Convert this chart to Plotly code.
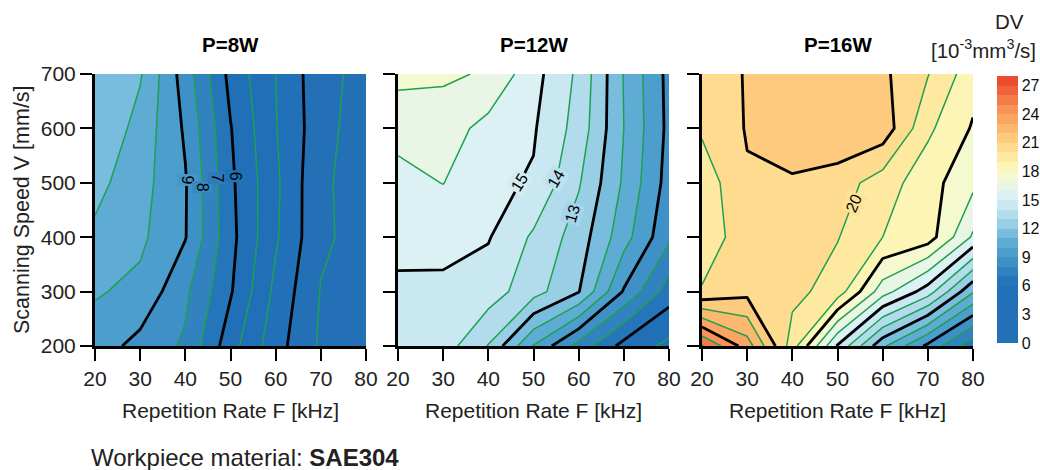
import plotly.graph_objects as go

# Grid of the process window
freq_khz = [20, 30, 40, 50, 60, 70, 80]
speed_mm_s = [200, 300, 400, 500, 600, 700]

# Removal rate DV [1e-3 mm^3/s]; one row per scanning speed (200 -> 700 mm/s),
# one column per repetition rate (20 -> 80 kHz)
dv_p8 = [
    [9.5, 8.67, 7.85, 5.4, 3.4, 1.85, 1.3],
    [10.1, 9.75, 8.2, 6.1, 3.75, 1.95, 1.4],
    [10.8, 10.2, 9.05, 6.3, 4.13, 2.18, 1.6],
    [11.3, 10.39, 9.08, 6.2, 4.2, 2.15, 1.6],
    [11.9, 10.64, 8.86, 6.05, 4.05, 2.4, 1.4],
    [11.6, 11.1, 8.5, 5.7, 4.0, 2.35, 1.65],
]
dv_p12 = [
    [14.6, 14.5, 12.95, 9.95, 7.6, 5.65, 4.75],
    [14.75, 14.8, 14.49, 13.4, 12.05, 8.9, 6.5],
    [15.4, 15.3, 15.07, 13.84, 12.53, 10.4, 8.2],
    [15.7, 16.02, 15.23, 14.9, 13.1, 10.85, 8.6],
    [16.3, 16.5, 15.65, 15.1, 13.6, 11.0, 8.75],
    [17.3, 17.15, 16.9, 15.35, 13.8, 10.95, 8.7],
]
dv_p16 = [
    [26.1, 23.5, 19.5, 14.9, 11.2, 8.75, 6.3],
    [20.1, 20.7, 20.3, 19.55, 16.45, 14.5, 11.1],
    [19.3, 20.65, 20.6, 20.05, 19.0, 18.5, 15.85],
    [19.4, 20.9, 20.8, 20.5, 19.5, 18.4, 17.25],
    [20.15, 21.07, 22.0, 21.9, 21.62, 19.2, 17.9],
    [20.6, 21.05, 21.7, 21.6, 21.2, 20.05, 18.4],
]

panel_titles = ["P=8W", "P=12W", "P=16W"]
freq_ticks = [20, 30, 40, 50, 60, 70, 80]
speed_ticks = [200, 300, 400, 500, 600, 700]
dv_ticks = [0, 3, 6, 9, 12, 15, 18, 21, 24, 27]

# labelled contour levels per panel
labelled_levels = [[9, 8, 7, 6], [15, 14, 13], [20]]

# one colour per 1-unit DV band, 0 -> 28
band_colors = [
    "#2470b6", "#2470b6", "#2370b7", "#2270b7", "#216fb7", "#206fb7",
    "#2575ba", "#3282c0", "#3f90c7", "#4c9ecd", "#5eacd4", "#78bddd",
    "#98cfe5", "#b2dcec", "#c9e8f1", "#dcf1f3", "#e9f6e5", "#f5f9cf",
    "#fdf5b6", "#fee9a0", "#fedb8f", "#fdca7e", "#fcb86f", "#faa562",
    "#f89256", "#f57c49", "#f1643b", "#ec4c2f",
]
DV_MAX = 28

FONT = "Arial, Liberation Sans, sans-serif"
GREEN = "#1fa04f"
W, H = 1040, 470

scale = []
for k, c in enumerate(band_colors):
    scale.append([k / DV_MAX, c])
    scale.append([(k + 1) / DV_MAX, c])


def mix(c1, c2):
    a = [int(c1[j:j + 2], 16) for j in (1, 3, 5)]
    b = [int(c2[j:j + 2], 16) for j in (1, 3, 5)]
    return "#" + "".join("%02x" % ((p + q) // 2) for p, q in zip(a, b))


x_px = [(95, 366), (398, 669), (702, 973)]
y_px = (74, 346)

# where each labelled contour gets its value written: (F, V, text angle)
label_spots = [
    [(40.5, 505, 90), (43.8, 492, 90), (47.2, 508, 90), (51.0, 513, 90)],
    [(46.9, 500, -58), (55.0, 508, -60), (58.6, 444, -74)],
    [(53.6, 462, -66)],
]

fig = go.Figure()
annotations = []

for i, dv in enumerate([dv_p8, dv_p12, dv_p16]):
    suffix = "" if i == 0 else str(i + 1)
    xa, ya = "x" + suffix, "y" + suffix
    fig.add_trace(go.Contour(
        x=freq_khz, y=speed_mm_s, z=dv, xaxis=xa, yaxis=ya,
        zmin=0, zmax=DV_MAX, autocontour=False, colorscale=scale,
        contours=dict(start=0, end=DV_MAX, size=1, coloring="fill", showlines=False),
        line=dict(width=0, smoothing=0), hoverinfo="skip", showscale=(i == 0),
        colorbar=dict(
            x=997 / W, xanchor="left", y=1 - (76 + 343) / 2 / H, yanchor="middle",
            len=(343 - 76) / H, lenmode="fraction", thickness=21, xpad=0, ypad=0,
            outlinewidth=0, tickvals=dv_ticks, ticks="",
            tickfont=dict(family=FONT, size=16, color="#111"),
        ),
    ))
    flat = [v for row in dv for v in row]
    for level in range(1, DV_MAX):
        if not (min(flat) < level < max(flat)):
            continue
        major = level % 3 == 0
        fig.add_trace(go.Contour(
            x=freq_khz, y=speed_mm_s, z=dv, xaxis=xa, yaxis=ya,
            autocontour=False, showscale=False, hoverinfo="skip",
            contours=dict(start=level, end=level, size=1, coloring="none"),
            line=dict(color="black" if major else GREEN,
                      width=2.8 if major else 1.5, smoothing=0),
        ))
    for level, (f, v, ang) in zip(labelled_levels[i], label_spots[i]):
        annotations.append(dict(
            text=str(level), x=f, y=v, xref=xa, yref=ya, showarrow=False,
            textangle=ang, bgcolor=mix(band_colors[level - 1], band_colors[level]),
            borderpad=1, font=dict(size=16, color="black"),
            xanchor="center", yanchor="middle"))
    # axis title under each panel
    annotations.append(dict(
        text="Repetition Rate F [kHz]", x=(x_px[i][0] + x_px[i][1]) / 2 / W,
        y=1 - 410 / H, xref="paper", yref="paper", showarrow=False,
        xanchor="center", yanchor="middle", font=dict(size=21)))

layout = dict(
    width=W, height=H, paper_bgcolor="white", plot_bgcolor="white",
    margin=dict(l=0, r=0, t=0, b=0, autoexpand=False),
    font=dict(family=FONT, size=21, color="#222"),
    showlegend=False,
)
for i in range(3):
    suffix = "" if i == 0 else str(i + 1)
    layout["xaxis" + suffix] = dict(
        domain=[x_px[i][0] / W, x_px[i][1] / W], anchor="y" + suffix,
        range=[20, 80], tickvals=freq_ticks, ticks="outside", ticklen=12,
        tickwidth=1.5, tickcolor="black", showline=True, linewidth=3,
        linecolor="black", showgrid=False, zeroline=False, automargin=False,
        tickfont=dict(size=21),
    )
    layout["yaxis" + suffix] = dict(
        domain=[1 - y_px[1] / H, 1 - y_px[0] / H], anchor="x" + suffix,
        range=[200, 700], tickvals=speed_ticks, ticks="outside", ticklen=12,
        tickwidth=1.5, tickcolor="black", showline=True, linewidth=3,
        linecolor="black", showgrid=False, zeroline=False, automargin=False,
        showticklabels=(i == 0), tickfont=dict(size=21),
    )

annotations.append(dict(
    text="Scanning Speed V [mm/s]", x=22 / W, y=1 - (y_px[0] + y_px[1]) / 2 / H,
    xref="paper", yref="paper", showarrow=False, textangle=-90,
    xanchor="center", yanchor="middle", font=dict(size=21.5)))

for i, t in enumerate(panel_titles):
    annotations.append(dict(
        text="<b>%s</b>" % t, x=(x_px[i][0] + x_px[i][1]) / 2 / W, y=1 - 45 / H,
        xref="paper", yref="paper", showarrow=False, font=dict(size=20.5, color="black"),
        xanchor="center", yanchor="middle"))
annotations.append(dict(text="DV", x=1009 / W, y=1 - 22 / H, xref="paper", yref="paper",
                        showarrow=False, xanchor="center", yanchor="middle",
                        font=dict(size=20.5)))
annotations.append(dict(text="[10<sup>-3</sup>mm<sup>3</sup>/s]", x=1038 / W, y=1 - 49 / H,
                        xref="paper", yref="paper", showarrow=False, xanchor="right",
                        yanchor="middle", font=dict(size=20.5)))
annotations.append(dict(text="Workpiece material: <b>SAE304</b>", x=89 / W, y=1 - 457 / H,
                        xref="paper", yref="paper", showarrow=False, xanchor="left",
                        yanchor="middle", font=dict(size=24)))
layout["annotations"] = annotations

fig.update_layout(**layout)
fig.write_html("out.html")
